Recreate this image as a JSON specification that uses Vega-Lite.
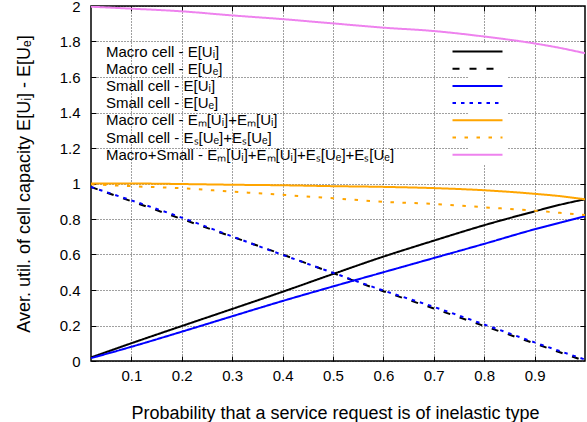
{
  "$schema": "https://vega.github.io/schema/vega-lite/v6.json",
  "width": 494,
  "height": 355,
  "autosize": {"type": "none"},
  "padding": {"left": 91, "top": 6, "right": 2, "bottom": 61},
  "config": {
    "font": "Liberation Sans",
    "view": {"stroke": "#000", "strokeWidth": 1.5},
    "axis": {
      "domain": false,
      "grid": true,
      "gridColor": "#000",
      "gridDash": [1, 2],
      "gridOpacity": 0.75,
      "gridWidth": 1,
      "tickColor": "#000",
      "tickSize": -5,
      "tickWidth": 1,
      "labelFont": "Liberation Sans",
      "labelFontSize": 15,
      "labelColor": "#000",
      "titleFont": "Liberation Sans",
      "titleFontSize": 18,
      "titleFontWeight": "normal",
      "titleColor": "#000"
    }
  },
  "data": {
    "values": [
      {"p": 0.02, "mi": 0.02, "me": 0.98, "si": 0.016, "se": 0.98, "ms": 1.0, "ss": 0.996, "tot": 1.996},
      {"p": 0.1, "mi": 0.1, "me": 0.9, "si": 0.08, "se": 0.905, "ms": 1.0, "ss": 0.985, "tot": 1.985},
      {"p": 0.2, "mi": 0.197, "me": 0.8, "si": 0.165, "se": 0.808, "ms": 0.997, "ss": 0.973, "tot": 1.97},
      {"p": 0.3, "mi": 0.293, "me": 0.7, "si": 0.252, "se": 0.702, "ms": 0.993, "ss": 0.954, "tot": 1.947},
      {"p": 0.4, "mi": 0.39, "me": 0.6, "si": 0.338, "se": 0.598, "ms": 0.99, "ss": 0.936, "tot": 1.926},
      {"p": 0.5, "mi": 0.49, "me": 0.495, "si": 0.42, "se": 0.497, "ms": 0.985, "ss": 0.917, "tot": 1.902},
      {"p": 0.6, "mi": 0.588, "me": 0.393, "si": 0.5, "se": 0.397, "ms": 0.981, "ss": 0.897, "tot": 1.878},
      {"p": 0.7, "mi": 0.678, "me": 0.296, "si": 0.58, "se": 0.305, "ms": 0.974, "ss": 0.885, "tot": 1.859},
      {"p": 0.8, "mi": 0.765, "me": 0.197, "si": 0.66, "se": 0.206, "ms": 0.962, "ss": 0.866, "tot": 1.828},
      {"p": 0.9, "mi": 0.843, "me": 0.099, "si": 0.742, "se": 0.105, "ms": 0.942, "ss": 0.847, "tot": 1.789},
      {"p": 0.95, "mi": 0.88, "me": 0.049, "si": 0.779, "se": 0.056, "ms": 0.929, "ss": 0.835, "tot": 1.764},
      {"p": 1.0, "mi": 0.911, "me": 0.0, "si": 0.815, "se": 0.008, "ms": 0.911, "ss": 0.823, "tot": 1.734}
    ]
  },
  "transform": [
    {"fold": ["mi", "me", "si", "se", "ms", "ss", "tot"], "as": ["series", "value"]}
  ],
  "layer": [
    {
      "mark": {"type": "line", "strokeWidth": 2, "interpolate": "monotone", "clip": true},
      "encoding": {
        "x": {
          "field": "p",
          "type": "quantitative",
          "scale": {"domain": [0.02, 1], "nice": false, "zero": false},
          "axis": {
            "orient": "bottom",
            "values": [0.1, 0.2, 0.3, 0.4, 0.5, 0.6, 0.7, 0.8, 0.9],
            "format": "~g",
            "labelPadding": 12,
            "title": "Probability that a service request is of inelastic type",
            "titleX": 244,
            "titleY": 57,
            "titleBaseline": "alphabetic",
            "titleAlign": "center"
          }
        },
        "y": {
          "field": "value",
          "type": "quantitative",
          "scale": {"domain": [0, 2], "nice": false},
          "axis": {
            "orient": "left",
            "values": [0, 0.2, 0.4, 0.6, 0.8, 1, 1.2, 1.4, 1.6, 1.8, 2],
            "format": "~g",
            "labelPadding": 16,
            "title": "Aver. util. of cell capacity E[Uᵢ] - E[Uₑ]",
            "titleX": -67,
            "titleY": 177.5,
            "titleAngle": 270,
            "titleBaseline": "middle",
            "titleAlign": "center"
          }
        },
        "color": {
          "field": "series",
          "type": "nominal",
          "sort": null,
          "scale": {
            "domain": ["mi", "me", "si", "se", "ms", "ss", "tot"],
            "range": ["#000000", "#000000", "#0000ff", "#0000ff", "#ffa500", "#ffa500", "#ee82ee"]
          },
          "legend": {
            "title": null,
            "orient": "none",
            "legendX": 378,
            "legendY": 37,
            "direction": "vertical",
            "padding": 1,
            "fillColor": "#ffffff",
            "symbolType": "M-5,0H5",
            "symbolSize": 100,
            "symbolStrokeWidth": 2,
            "rowPadding": 1.2,
            "labelFont": "Liberation Sans",
            "labelFontSize": 15,
            "labelColor": "#000",
            "labelAlign": "left",
            "labelBaseline": "middle",
            "labelOffset": -379,
            "labelLimit": 500,
            "labelExpr": "{'mi': 'Macro cell - E[Uᵢ]', 'me': 'Macro cell - E[Uₑ]', 'si': 'Small cell - E[Uᵢ]', 'se': 'Small cell - E[Uₑ]', 'ms': 'Macro cell - Eₘ[Uᵢ]+Eₘ[Uᵢ]', 'ss': 'Small cell - Eₛ[Uₑ]+Eₛ[Uₑ]', 'tot': 'Macro+Small - Eₘ[Uᵢ]+Eₘ[Uᵢ]+Eₛ[Uₑ]+Eₛ[Uₑ]'}[datum.value]"
          }
        },
        "strokeDash": {
          "field": "series",
          "type": "nominal",
          "sort": null,
          "scale": {
            "domain": ["mi", "me", "si", "se", "ms", "ss", "tot"],
            "range": [[1, 0], [7, 10], [1, 0], [3.5, 5], [1, 0], [3.5, 8.5], [1, 0]]
          },
          "legend": null
        }
      }
    },
    {
      "mark": {"type": "point", "opacity": 0},
      "encoding": {
        "x": {
          "field": "p",
          "type": "quantitative",
          "axis": {"orient": "top", "values": [0.1, 0.2, 0.3, 0.4, 0.5, 0.6, 0.7, 0.8, 0.9], "labels": false, "grid": false, "title": null}
        },
        "y": {
          "field": "value",
          "type": "quantitative",
          "axis": {"orient": "right", "values": [0.2, 0.4, 0.6, 0.8, 1, 1.2, 1.4, 1.6, 1.8], "labels": false, "grid": false, "title": null}
        }
      }
    }
  ],
  "resolve": {"axis": {"x": "independent", "y": "independent"}}
}
